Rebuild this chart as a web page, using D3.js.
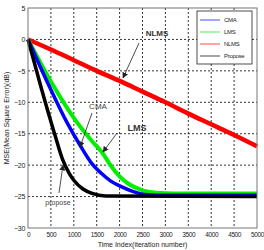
<!DOCTYPE html>
<html>
<head>
<meta charset="utf-8">
<script src="https://cdn.jsdelivr.net/npm/d3@7"></script>
<style>
  body { margin: 0; background: #fff; }
  svg { display: block; font-family: "Liberation Sans", Arial, sans-serif; }
</style>
</head>
<body>
<div class="chart"></div>
<script>
// tick labels
var xTicks = [0, 500, 1000, 1500, 2000, 2500, 3000, 3500, 4000, 4500, 5000];
var yTicks = [5, 0, -5, -10, -15, -20, -25, -30];

// series (iteration, dB)
var nlmsIter = [0, 500, 1000, 1500, 2000, 2500, 3000, 3500, 4000, 4500, 5000];
var nlmsMse  = [0, -1.6, -3.3, -5.0, -6.6, -8.3, -10.0, -11.8, -13.5, -15.2, -17.0];

var lmsIter = [0, 500, 1070, 1400, 1640, 1800, 2000, 2200, 2500, 2800, 3200, 5000];
var lmsMse  = [0, -6.7, -13.2, -16.2, -18.2, -20.0, -21.8, -23.0, -24.0, -24.4, -24.5, -24.5];

var cmaIter = [0, 500, 850, 1150, 1400, 1600, 1800, 2000, 2300, 2600, 3000, 5000];
var cmaMse  = [0, -8.0, -13.2, -17.0, -19.8, -21.3, -22.5, -23.3, -24.2, -24.7, -24.8, -24.8];

var propIter = [0, 300, 600, 750, 900, 1000, 1200, 1400, 1700, 5000];
var propMse  = [0, -8.0, -15.5, -19.0, -21.3, -22.4, -23.8, -24.5, -24.9, -25.0];

var seriesNames = ["CMA", "LMS", "NLMS", "Propose"];
var seriesColors = ["#0000ff", "#00ee00", "#ff0000", "#000000"];

function drawChart() {
    var width = 264, height = 250;
    var left = 28, right = 257, top = 8, bottom = 228;

    var x = d3.scaleLinear().domain([0, 5000]).range([left, right]);
    var y = d3.scaleLinear().domain([-30, 5]).range([bottom, top]);

    var svg = d3.select('.chart')
        .append('svg')
        .attr('width', width)
        .attr('height', height);

    svg.append('defs').append('marker')
        .attr('id', 'head')
        .attr('viewBox', '0 0 10 10')
        .attr('refX', 9).attr('refY', 5)
        .attr('markerWidth', 6).attr('markerHeight', 6)
        .attr('markerUnits', 'userSpaceOnUse')
        .attr('orient', 'auto')
        .append('path')
        .attr('d', 'M0,0L10,5L0,10z')
        .attr('fill', '#222');

    // grid
    var grid = svg.append('g').attr('stroke', '#000').attr('stroke-width', 0.8)
        .attr('stroke-dasharray', '2,2');
    grid.selectAll('.gx').data(xTicks.slice(1, -1)).enter().append('line')
        .attr('x1', function(d){ return x(d); }).attr('x2', function(d){ return x(d); })
        .attr('y1', top).attr('y2', bottom);
    grid.selectAll('.gy').data(yTicks.slice(1, -1)).enter().append('line')
        .attr('y1', function(d){ return y(d); }).attr('y2', function(d){ return y(d); })
        .attr('x1', left).attr('x2', right);

    // curves
    var line = d3.line()
        .x(function(d){ return x(d[0]); })
        .y(function(d){ return y(d[1]); })
        .curve(d3.curveMonotoneX);
    var curves = [
        {iter: nlmsIter, mse: nlmsMse, color: seriesColors[2], w: 4.5},
        {iter: lmsIter, mse: lmsMse, color: seriesColors[1], w: 4},
        {iter: cmaIter, mse: cmaMse, color: seriesColors[0], w: 3.5},
        {iter: propIter, mse: propMse, color: seriesColors[3], w: 3.5}
    ];
    curves.forEach(function(c){
        svg.append('path')
            .datum(d3.zip(c.iter, c.mse))
            .attr('fill', 'none')
            .attr('stroke', c.color)
            .attr('stroke-width', c.w)
            .attr('stroke-linejoin', 'round')
            .attr('d', line);
    });

    // axes frame
    svg.append('rect')
        .attr('x', left).attr('y', top)
        .attr('width', right - left).attr('height', bottom - top)
        .attr('fill', 'none').attr('stroke', '#777').attr('stroke-width', 1);

    var xAxis = d3.axisBottom(x).tickValues(xTicks).tickFormat(d3.format('d'))
        .tickSize(0).tickPadding(4);
    var gx = svg.append('g').attr('transform', 'translate(0,' + bottom + ')').call(xAxis);
    gx.select('.domain').remove();
    gx.selectAll('text').attr('font-size', 6.5).attr('fill', '#222')
        .attr('font-family', '"Liberation Sans", sans-serif')
        .attr('letter-spacing', -0.4);

    var yAxis = d3.axisLeft(y).tickValues(yTicks).tickFormat(d3.format('d'))
        .tickSize(0).tickPadding(3);
    var gy = svg.append('g').attr('transform', 'translate(' + left + ',0)').call(yAxis);
    gy.select('.domain').remove();
    gy.selectAll('text').attr('font-size', 7).attr('fill', '#222')
        .attr('font-family', '"Liberation Sans", sans-serif')
        .attr('letter-spacing', -0.3);

    svg.append('text')
        .attr('x', (left + right) / 2).attr('y', 247)
        .attr('text-anchor', 'middle').attr('font-size', 7).attr('fill', '#222')
        .text('Time Index(iteration number)');
    svg.append('text')
        .attr('transform', 'translate(9,' + ((top + bottom) / 2) + ') rotate(-90)')
        .attr('text-anchor', 'middle').attr('font-size', 7).attr('fill', '#222')
        .text('MSE(Mean Square Error)(dB)');

    // legend
    var lg = svg.append('g').attr('transform', 'translate(197,11)');
    lg.append('rect').attr('width', 55).attr('height', 53)
        .attr('fill', '#fff').attr('stroke', '#222').attr('stroke-width', 0.8);
    seriesNames.forEach(function(name, i){
        var yy = 9 + i * 12;
        lg.append('line').attr('x1', 3).attr('x2', 23).attr('y1', yy).attr('y2', yy)
            .attr('stroke', seriesColors[i]).attr('stroke-width', 1).attr('opacity', 0.7);
        lg.append('text').attr('x', 27).attr('y', yy + 2.2)
            .attr('font-size', 6).attr('fill', '#222').attr('letter-spacing', -0.3)
            .text(name);
    });

    // annotations
    var notes = [
        {label: 'NLMS', tx: 157, ty: 36, weight: 'bold', size: 8, fill: '#333', x1: 139, y1: 43, x2: 123, y2: 78},
        {label: 'CMA', tx: 98, ty: 109, weight: 'normal', size: 8, fill: '#444', x1: 92, y1: 113, x2: 80, y2: 147},
        {label: 'LMS', tx: 137, ty: 131, weight: 'bold', size: 9, fill: '#333', x1: 117, y1: 133, x2: 103, y2: 152},
        {label: 'propose', tx: 58, ty: 205, weight: 'normal', size: 7, fill: '#444', x1: 59, y1: 193, x2: 63, y2: 165}
    ];
    notes.forEach(function(n){
        svg.append('text').attr('x', n.tx).attr('y', n.ty)
            .attr('text-anchor', 'middle').attr('font-size', n.size)
            .attr('font-weight', n.weight).attr('fill', n.fill)
            .text(n.label);
        svg.append('line').attr('x1', n.x1).attr('y1', n.y1).attr('x2', n.x2).attr('y2', n.y2)
            .attr('stroke', '#222').attr('stroke-width', 0.8)
            .attr('marker-end', 'url(#head)');
    });
}

drawChart();
</script>
</body>
</html>
